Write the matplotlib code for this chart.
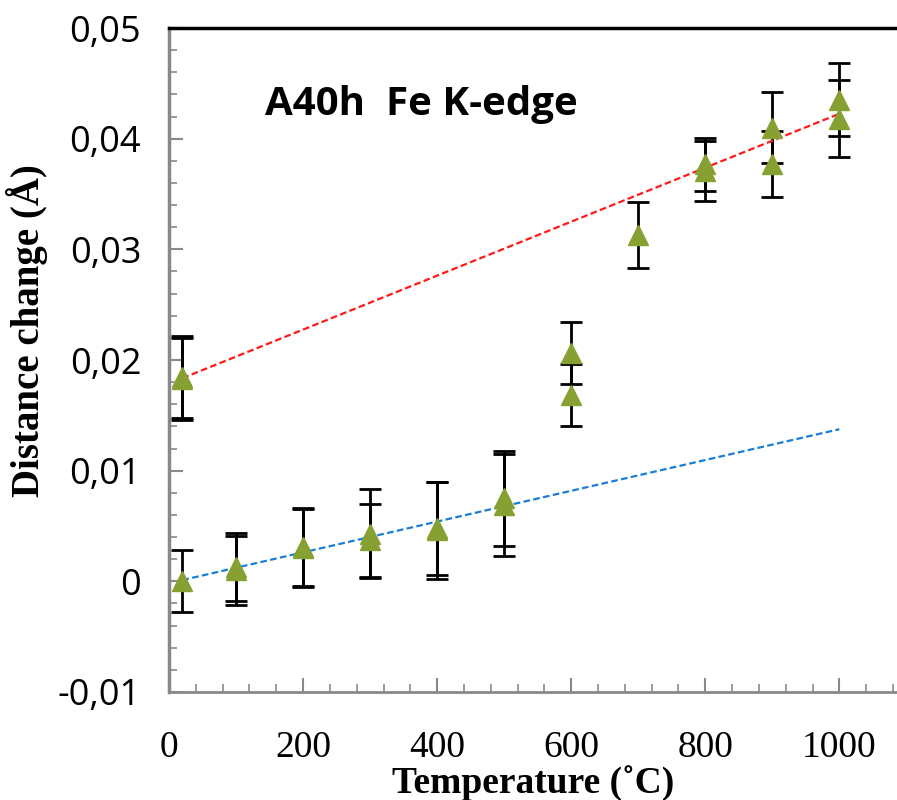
import numpy as np
import matplotlib
matplotlib.use("Agg")
import matplotlib.pyplot as plt
from matplotlib.ticker import MultipleLocator, FuncFormatter

# temperatures (C), distance change (A) and error for each measured point
temps = [20, 20, 20, 100, 100, 200, 200, 300, 300, 400, 400, 500, 500,
         600, 600, 700, 800, 800, 900, 900, 1000, 1000]
dist = [0.0185, 0.0183, 0.0000, 0.0013, 0.0010, 0.0031, 0.0030, 0.0043, 0.0037,
        0.0048, 0.0046, 0.0075, 0.0069, 0.0206, 0.0168, 0.0313, 0.0377, 0.0371,
        0.0410, 0.0377, 0.0435, 0.0418]
errs = [0.0037, 0.0037, 0.0028, 0.0031, 0.0031, 0.0035, 0.0035, 0.0040, 0.0033,
        0.0042, 0.0044, 0.0043, 0.0046, 0.0028, 0.0028, 0.0030, 0.0024, 0.0027,
        0.0032, 0.0030, 0.0033, 0.0035]

# which points feed each trend line
low_idx = [2, 3, 4, 5, 6, 7, 8, 9, 10, 11, 12]
high_idx = [0, 1, 16, 17, 18, 19, 20, 21]

temps = np.array(temps, dtype=float)
dist = np.array(dist)
errs = np.array(errs)

fig = plt.figure(figsize=(8.97, 8.0), dpi=100)
ax = fig.add_axes([0.1884, 0.135, 1 - 0.1884, 0.965 - 0.135])

# trend lines from linear fits
fit_x = np.array([20, 1000])
k, b = np.polyfit(temps[high_idx], dist[high_idx], 1)
ax.plot(fit_x, k * fit_x + b, color="#ff1a1a", ls=(0, (3, 1.5)), lw=1.6, zorder=3)
k, b = np.polyfit(temps[low_idx], dist[low_idx], 1)
ax.plot(fit_x, k * fit_x + b, color="#1a7fd4", ls=(0, (3, 1.5)), lw=1.6, zorder=3)

ax.errorbar(temps, dist, yerr=errs, fmt="none", ecolor="black", elinewidth=2,
            capsize=8, capthick=2, zorder=2)
ax.plot(temps, dist, ls="none", marker="^", ms=15, color="#86a032",
        markeredgecolor="#86a032", zorder=4)

ax.set_xlim(0, 1086)
ax.set_ylim(-0.01, 0.05)

ax.xaxis.set_major_locator(MultipleLocator(200))
ax.xaxis.set_minor_locator(MultipleLocator(40))
ax.yaxis.set_major_locator(MultipleLocator(0.01))
ax.yaxis.set_minor_locator(MultipleLocator(0.002))
ax.yaxis.set_major_formatter(FuncFormatter(
    lambda v, p: "0" if abs(v) < 1e-9 else f"{v:.2f}".replace(".", ",")))

for s in ["left", "bottom"]:
    ax.spines[s].set_color("#898989")
ax.spines["left"].set_linewidth(2.5)
ax.spines["bottom"].set_linewidth(2)
ax.spines["right"].set_visible(False)
ax.spines["top"].set_color("black")
ax.spines["top"].set_linewidth(2.5)

ax.tick_params(which="both", direction="in", color="#898989", top=False, right=False)
ax.tick_params(which="major", length=10, width=1.5)
ax.tick_params(which="minor", length=6, width=1.2)
ax.tick_params(axis="y", labelsize=26, pad=20)
ax.tick_params(axis="x", labelsize=27, pad=28)
for t in ax.get_yticklabels():
    t.set_family("Open Sans")
for t in ax.get_xticklabels():
    t.set_family("Liberation Serif")

ax.set_xlabel("Temperature (˚C)", family="Liberation Serif", weight="bold",
              fontsize=27, labelpad=0)
ax.set_ylabel("Distance change (Å)", family="Liberation Serif", weight="bold",
              fontsize=28)
ax.yaxis.set_label_coords(-0.166, 0.545)

ax.text(0.132, 0.885, "A40h  Fe K-edge", transform=ax.transAxes, fontsize=29,
        family="Open Sans", weight="bold", va="center")

fig.savefig("out.png", dpi=100)
